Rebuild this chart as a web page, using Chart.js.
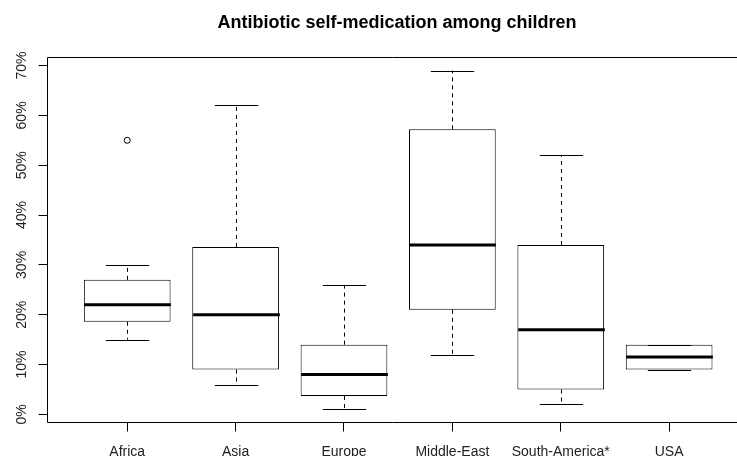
<!DOCTYPE html>
<html>
<head>
<meta charset="utf-8">
<script src="https://cdn.jsdelivr.net/npm/chart.js@4.4.1/dist/chart.umd.min.js"></script>
<style>
  html, body { margin: 0; padding: 0; background: #fff; }
  #wrap { width: 737px; height: 456px; }
</style>
</head>
<body>
<div id="wrap"><canvas id="mychart"></canvas></div>
<script>
// Dữ liệu (đơn vị %)
const regions = ["Africa", "Asia", "Europe", "Middle-East", "South-America*", "USA"];
const whiskerLow = [15, 6, 1, 12, 2, 9];
const q1 = [18.6, 9, 3.7, 21, 5, 9];
const median = [22, 20, 8, 34, 17, 11.5];
const q3 = [27, 33.6, 14, 57.2, 34, 14];
const whiskerHigh = [30, 62, 26, 69, 52, 14];
const outlierX = [1]; // Africa
const outlierY = [55];
const yTicks = [0, 10, 20, 30, 40, 50, 60, 70];

// Trục giống R: mở rộng 4%
const lo = 1, hi = 69;
const yMin = lo - 0.04 * (hi - lo);
const yMax = hi + 0.04 * (hi - lo);
const xMin = 0.5 - 0.04 * regions.length;
// mép phải của hình gốc bị cắt
const xMax = 6.58;

const axisFont = { family: "'Liberation Sans', Arial, sans-serif", size: 14 };

// Vẽ râu, vạch trung vị và khung
const boxParts = {
  id: "boxParts",
  afterDatasetsDraw(chart) {
    const { ctx, chartArea } = chart;
    const x = chart.scales.x, y = chart.scales.y;
    const unit = x.getPixelForValue(2) - x.getPixelForValue(1);
    ctx.save();
    ctx.strokeStyle = "#000";
    ctx.lineCap = "butt";
    regions.forEach((r, i) => {
      const cx = Math.round(x.getPixelForValue(i + 1)) + 0.5;
      // râu nét đứt
      ctx.lineWidth = 1;
      ctx.setLineDash([4, 4]);
      ctx.beginPath();
      if (whiskerHigh[i] > q3[i]) {
        ctx.moveTo(cx, y.getPixelForValue(q3[i]));
        ctx.lineTo(cx, y.getPixelForValue(whiskerHigh[i]));
      }
      if (whiskerLow[i] < q1[i]) {
        ctx.moveTo(cx, y.getPixelForValue(q1[i]));
        ctx.lineTo(cx, y.getPixelForValue(whiskerLow[i]));
      }
      ctx.stroke();
      // chặn râu
      ctx.setLineDash([]);
      ctx.beginPath();
      [whiskerHigh[i], whiskerLow[i]].forEach((v) => {
        const py = Math.round(y.getPixelForValue(v)) + 0.5;
        ctx.moveTo(cx - unit * 0.2, py);
        ctx.lineTo(cx + unit * 0.2, py);
      });
      ctx.stroke();
      // trung vị
      ctx.lineWidth = 3;
      ctx.beginPath();
      const my = y.getPixelForValue(median[i]);
      ctx.moveTo(cx - unit * 0.4, my);
      ctx.lineTo(cx + unit * 0.4, my);
      ctx.stroke();
    });
    // khung (mép phải bị cắt)
    ctx.lineWidth = 1;
    ctx.beginPath();
    const l = Math.round(chartArea.left) + 0.5;
    const t = Math.round(chartArea.top) + 0.5;
    const b = Math.round(chartArea.bottom) - 0.5;
    ctx.moveTo(chart.width, t);
    ctx.lineTo(l, t);
    ctx.lineTo(l, b);
    ctx.lineTo(chart.width, b);
    ctx.stroke();
    ctx.restore();
  },
};

const ctx = document.getElementById("mychart").getContext("2d");
const mychart = new Chart(ctx, {
  type: "bar",
  data: {
    datasets: [
      {
        type: "bar",
        data: regions.map((r, i) => ({ x: i + 1, y: [q1[i], q3[i]] })),
        backgroundColor: "#fff",
        borderColor: "#000",
        borderWidth: 1,
        borderSkipped: false,
        categoryPercentage: 1,
        barPercentage: 0.8,
      },
      {
        type: "scatter",
        data: outlierX.map((v, i) => ({ x: v, y: outlierY[i] })),
        pointStyle: "circle",
        pointRadius: 3,
        backgroundColor: "#fff",
        borderColor: "#000",
        borderWidth: 1,
      },
    ],
  },
  options: {
    responsive: true,
    maintainAspectRatio: false,
    animation: false,
    devicePixelRatio: 1,
    layout: { padding: 0 },
    plugins: {
      legend: { display: false },
      tooltip: { enabled: false },
      title: {
        display: true,
        fullSize: false,
        text: "\u00a0\u00a0\u00a0Antibiotic self-medication among children",
        color: "#000",
        font: { family: "'Liberation Sans', Arial, sans-serif", size: 18, weight: "bold" },
        padding: { top: 12.5, bottom: 22.9 },
      },
    },
    scales: {
      x: {
        type: "linear",
        min: xMin,
        max: xMax,
        offset: false,
        afterBuildTicks: (a) => {
          a.ticks = regions.map((r, i) => ({ value: i + 1 }));
        },
        afterFit: (a) => {
          a.height = 33;
        },
        ticks: {
          callback: (v) => regions[v - 1],
          autoSkip: false,
          maxRotation: 0,
          font: axisFont,
          color: "#222",
          padding: 12,
        },
        grid: { offset: false, drawOnChartArea: false, tickLength: 8.5, color: "#000" },
        border: { display: false },
      },
      y: {
        type: "linear",
        min: yMin,
        max: yMax,
        afterBuildTicks: (a) => {
          a.ticks = yTicks.map((v) => ({ value: v }));
        },
        afterFit: (a) => {
          a.width = 47;
        },
        ticks: {
          callback: (v) => v + "%",
          minRotation: 90,
          maxRotation: 90,
          crossAlign: "center",
          font: axisFont,
          color: "#222",
          padding: 2,
        },
        grid: { drawOnChartArea: false, tickLength: 8.5, color: "#000" },
        border: { display: false },
      },
    },
  },
  plugins: [boxParts],
});
</script>
</body>
</html>
